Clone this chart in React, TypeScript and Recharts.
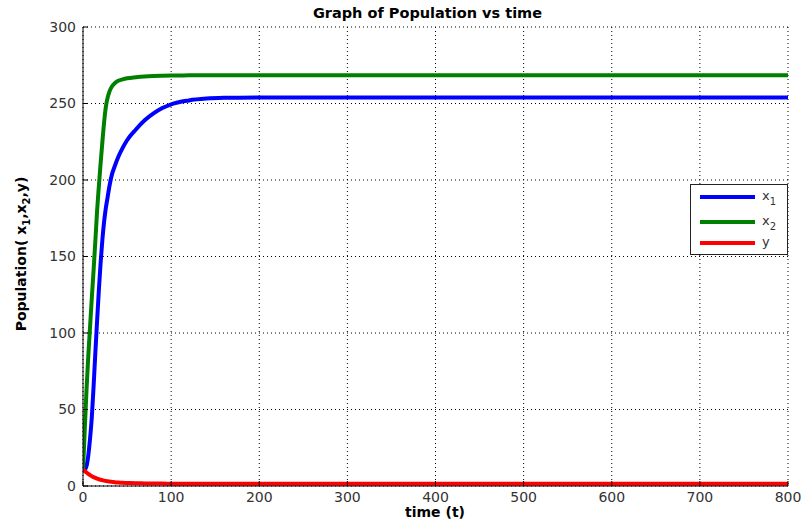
import React from 'react';
import { LineChart, Line, XAxis, YAxis, CartesianGrid } from 'recharts';

const times = [0, 2, 4, 6, 8, 10, 12, 14, 16, 18, 20, 22, 24, 26, 28, 30, 33, 36, 40, 45, 50, 60, 70, 80, 90, 100, 120, 140, 160, 200, 250, 300, 400, 500, 600, 700, 800];
const x1Values = [10, 10.5, 13, 20, 31, 45, 65, 87, 108, 128, 146, 161, 173, 182, 189, 196, 204, 209, 215, 221, 226, 233, 239, 243.5, 247, 249.5, 252, 253.2, 253.7, 254, 254, 254, 254, 254, 254, 254, 254];
const x2Values = [10, 37, 63, 85, 104, 123, 141, 160, 180, 196, 211, 225, 238, 248, 254, 257.8, 261.3, 263.2, 264.8, 265.8, 266.5, 267.2, 267.7, 268, 268.2, 268.3, 268.4, 268.5, 268.5, 268.5, 268.5, 268.5, 268.5, 268.5, 268.5, 268.5, 268.5];
const yValues = [11, 9.8, 8.8, 7.9, 7.1, 6.4, 5.8, 5.3, 4.8, 4.4, 4.1, 3.8, 3.5, 3.3, 3.1, 2.9, 2.7, 2.5, 2.3, 2.1, 2.0, 1.8, 1.7, 1.6, 1.6, 1.5, 1.5, 1.5, 1.5, 1.5, 1.5, 1.5, 1.5, 1.5, 1.5, 1.5, 1.5];
const xTicks = [0, 100, 200, 300, 400, 500, 600, 700, 800];
const yTicks = [0, 50, 100, 150, 200, 250, 300];

const seriesNames = ['x1', 'x2', 'y'];
const seriesColors = ['#0000ff', '#008000', '#ff0000'];

const data = times.map((t, i) => ({ t, x1: x1Values[i], x2: x2Values[i], y: yValues[i] }));

const FONT = '"DejaVu Sans", sans-serif';

function LegendBox() {
  const rows = [
    { key: 'x1', base: 'x', sub: '1', color: seriesColors[0], y: 13 },
    { key: 'x2', base: 'x', sub: '2', color: seriesColors[1], y: 38 },
    { key: 'y', base: 'y', sub: '', color: seriesColors[2], y: 59 },
  ];
  return (
    <svg width={98} height={71} style={{ display: 'block' }}>
      <rect x={0.5} y={0.5} width={97} height={70} fill="#fff" stroke="#222" strokeWidth={1} />
      {rows.map((r) => (
        <g key={r.key}>
          <line x1={10} x2={65} y1={r.y} y2={r.y} stroke={r.color} strokeWidth={4} />
          <text x={72} y={r.y + 3} fontFamily={FONT} fontSize={13} fill="#333">
            {r.base}
            {r.sub ? (
              <tspan dy={5} fontSize={10}>{r.sub}</tspan>
            ) : null}
          </text>
        </g>
      ))}
    </svg>
  );
}

function YLabel() {
  return (
    <text
      transform="translate(26,254) rotate(-90)"
      textAnchor="middle"
      fontFamily={FONT}
      fontWeight="bold"
      fontSize={14}
      fill="#000"
    >
      Population( x<tspan dy={4} fontSize={10}>1</tspan>
      <tspan dy={-4}>,x</tspan>
      <tspan dy={4} fontSize={10}>2</tspan>
      <tspan dy={-4}>,y)</tspan>
    </text>
  );
}

function XLabel() {
  return (
    <text x={435} y={517} textAnchor="middle" fontFamily={FONT} fontWeight="bold" fontSize={14} fill="#000">
      time (t)
    </text>
  );
}

export default function App() {
  return (
    <div style={{ position: 'absolute', left: 0, top: 0, width: 803, height: 524, background: '#fff' }}>
      <div
        style={{
          position: 'absolute',
          left: 0,
          top: 5,
          width: 803,
          textAlign: 'center',
          fontFamily: FONT,
          fontWeight: 'bold',
          fontSize: 14.5,
          color: '#000',
          paddingLeft: 52,
          boxSizing: 'border-box',
          zIndex: 2,
        }}
      >
        Graph of Population vs time
      </div>
      <LineChart width={803} height={524} data={data} margin={{ top: 27, right: 15, bottom: 0, left: 0 }}>
        <CartesianGrid stroke="#000" strokeDasharray="1 3" strokeWidth={1} />
        <XAxis
          dataKey="t"
          type="number"
          domain={[0, 800]}
          ticks={xTicks}
          height={38}
          interval={0}
          allowDataOverflow
          axisLine={{ stroke: '#000' }}
          tickLine={{ stroke: '#000' }}
          tickSize={-5}
          tickMargin={11}
          tick={{ fill: '#333', fontFamily: FONT, fontSize: 14 }}
          label={<XLabel />}
        />
        <XAxis
          xAxisId="top"
          orientation="top"
          dataKey="t"
          type="number"
          domain={[0, 800]}
          ticks={xTicks}
          height={0}
          interval={0}
          axisLine={{ stroke: '#000' }}
          tickLine={{ stroke: '#000' }}
          tickSize={-5}
          tick={false}
        />
        <YAxis
          type="number"
          domain={[0, 300]}
          ticks={yTicks}
          width={83}
          interval={0}
          allowDataOverflow
          axisLine={{ stroke: '#000' }}
          tickLine={{ stroke: '#000' }}
          tickSize={-5}
          tickMargin={12}
          tick={{ fill: '#333', fontFamily: FONT, fontSize: 14 }}
          label={<YLabel />}
        />
        <YAxis
          yAxisId="right"
          orientation="right"
          type="number"
          domain={[0, 300]}
          ticks={yTicks}
          width={0}
          interval={0}
          axisLine={{ stroke: '#000' }}
          tickLine={{ stroke: '#000' }}
          tickSize={-5}
          tick={false}
        />
        <Line type="monotone" dataKey="x1" name={seriesNames[0]} stroke={seriesColors[0]} strokeWidth={4} dot={false} isAnimationActive={false} />
        <Line type="monotone" dataKey="x2" name={seriesNames[1]} stroke={seriesColors[1]} strokeWidth={4} dot={false} isAnimationActive={false} />
        <Line type="monotone" dataKey="y" name={seriesNames[2]} stroke={seriesColors[2]} strokeWidth={4} dot={false} isAnimationActive={false} />
      </LineChart>
      <div style={{ position: 'absolute', left: 690, top: 184, width: 98, height: 71, zIndex: 3 }}>
        <LegendBox />
      </div>
    </div>
  );
}
